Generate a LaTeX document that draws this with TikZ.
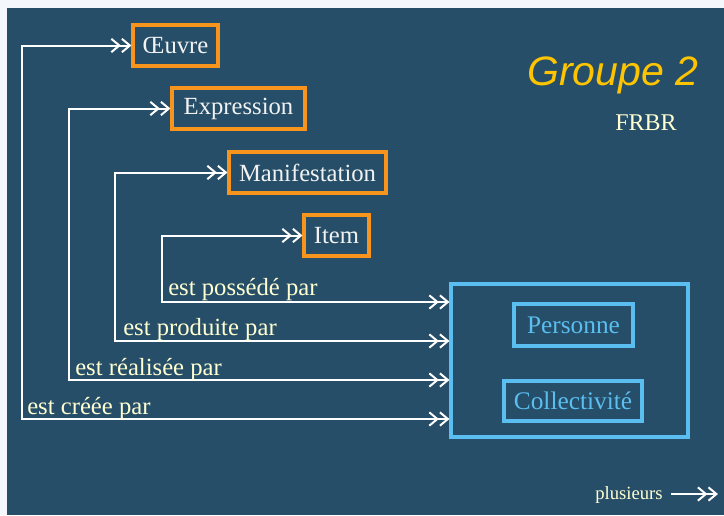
\documentclass[tikz,border=0pt]{standalone}
\usepackage{fontspec}
\setmainfont{Liberation Serif}
\newfontfamily\headfont{Liberation Sans}
\usetikzlibrary{arrows.meta}
\definecolor{bg}{RGB}{38,78,104}
\definecolor{outerbg}{RGB}{244,248,252}
\definecolor{orng}{RGB}{247,148,30}
\definecolor{lblue}{RGB}{90,190,240}
\definecolor{cream}{RGB}{255,255,210}
\definecolor{gold}{RGB}{255,196,0}
\definecolor{nodetxt}{RGB}{242,242,242}
\tikzset{
  dbarb/.tip={Straight Barb[length=6pt,width=10pt]Straight Barb[length=6pt,width=10pt]},
  entity/.style={draw=orng, line width=2.3pt, inner sep=0pt, text=nodetxt, font=\fontsize{18.5}{22}\selectfont},
  agent/.style={draw=lblue, line width=2.3pt, inner sep=0pt, text=lblue, font=\fontsize{19}{22}\selectfont},
  link/.style={draw=white, line width=1.5pt, {dbarb}-{dbarb}},
  single/.style={draw=white, line width=1.5pt, -{dbarb}},
  lbl/.style={text=cream, inner sep=0pt, anchor=base west, font=\fontsize{18.5}{22}\selectfont},
}
\begin{document}
\begin{tikzpicture}[x=0.75pt,y=-0.75pt]
\fill[outerbg] (0,0) rectangle (724,515);
\fill[bg] (7,8) rectangle (724,515);
\useasboundingbox (0,0) rectangle (724,515);

\node[entity, minimum width=85*0.75pt, minimum height=41*0.75pt] (oeuvre) at (175.5,45.5) {Œuvre};
\node[entity, minimum width=133*0.75pt, minimum height=41*0.75pt] (expr) at (238.5,108.5) {Expression};
\node[entity, minimum width=157*0.75pt, minimum height=41*0.75pt] (manif) at (307.5,172.5) {Manifestation};
\node[entity, minimum width=65*0.75pt, minimum height=41*0.75pt] (item) at (336.5,235.5) {Item};

\node[draw=lblue, line width=2.3pt, minimum width=237*0.75pt, minimum height=153*0.75pt, inner sep=0pt] (big) at (569.5,360.5) {};
\node[agent, minimum width=119*0.75pt, minimum height=42*0.75pt] (pers) at (573.5,325) {Personne};
\node[agent, minimum width=138*0.75pt, minimum height=40*0.75pt] (coll) at (573,401) {Collectivité};

\coordinate (r1) at (22,419);
\coordinate (r2) at (69,380);
\coordinate (r3) at (115,341);
\coordinate (r4) at (162,302);

\draw[link] (big.west |- r1) -- (r1) |- (oeuvre.west);
\draw[link] (big.west |- r2) -- (r2) |- (expr.west);
\draw[link] (big.west |- r3) -- (r3) |- (manif.west);
\draw[link] (big.west |- r4) -- (r4) |- (item.west);

\node[lbl] (l4) at (168,295) {est possédé par};
\node[lbl] (l3) at (123,335) {est produite par};
\node[lbl] (l2) at (75,375) {est réalisée par};
\node[lbl] (l1) at (27,414) {est créée par};

\node[text=gold, anchor=base west, inner sep=0pt, font=\headfont\itshape\fontsize{30.8}{34}\selectfont] (title) at (527,85) {Groupe 2};
\node[text=cream, anchor=base west, inner sep=0pt, font=\fontsize{18}{22}\selectfont] (frbr) at (615,130) {FRBR};

\node[text=cream, anchor=base west, inner sep=0pt, font=\fontsize{14}{16}\selectfont] (plus) at (595,499) {plusieurs};
\coordinate (pe) at (718,494);
\draw[single] (plus.east |- pe) ++(8,0) -- (pe);
\end{tikzpicture}
\end{document}
